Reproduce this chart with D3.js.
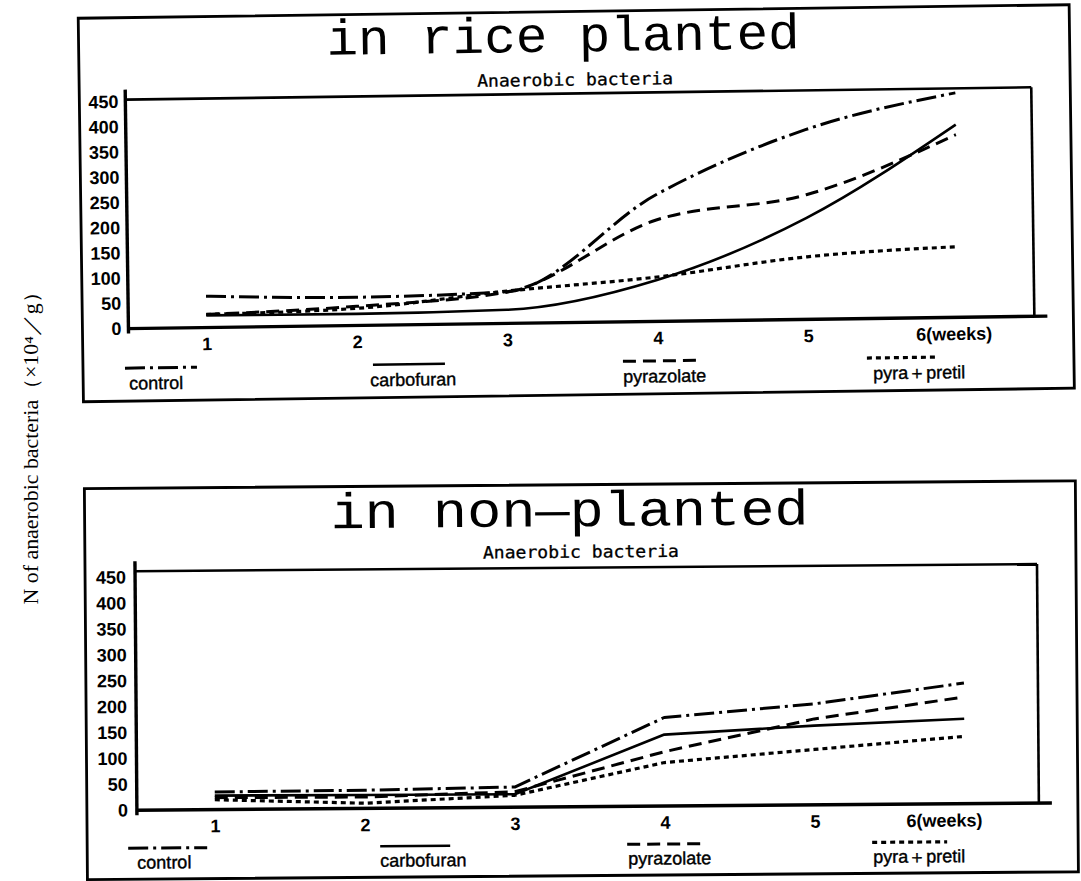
<!DOCTYPE html>
<html><head><meta charset="utf-8">
<script src="https://cdn.jsdelivr.net/npm/d3@7"></script>
<style>body{margin:0;background:#fff}svg{display:block}</style>
</head><body>
<svg id="c" width="1081" height="881"></svg>
<script>
// ---------- data ----------
const weeks = [1, 2, 3, 4, 5, 6];
const weekLabels = ["1", "2", "3", "4", "5", "6(weeks)"];
const yTicks = [0, 50, 100, 150, 200, 250, 300, 350, 400, 450];
const seriesNames = ["control", "carbofuran", "pyrazolate", "pyra＋pretil"];

// in rice planted
const riceControl     = [62, 56, 63, 251, 376, 445];
const riceCarbofuran  = [24, 23, 27, 82, 201, 382];
const ricePyrazolate  = [26, 38, 62, 201, 247, 362];
const ricePyraPretil  = [26, 34, 64, 88, 124, 140];

// in non-planted
const nonControl      = [34, 35, 39, 171, 195, 233];
const nonCarbofuran   = [27, 26, 25, 138, 153, 164];
const nonPyrazolate   = [23, 22, 30, 105, 166, 206];
const nonPyraPretil   = [19, 10, 23, 84, 107, 130];

const panelTitles = ["in rice planted", "in non\u2014planted"];
const subTitle = "Anaerobic bacteria";
const yAxisTitle = "N of anaerobic bacteria\uFF08\u00D710\u2074\uFF0Fg\uFF09";

// ---------- styles ----------
const lineStyles = [
  {dash: "20,5,3,5", w: 3},
  {dash: null, w: 2.6},
  {dash: "13,7", w: 3},
  {dash: "5,4", w: 3.2}
];

const panels = [
  {
    rot: -0.78, box: [84, 12, 1075, 395.5],
    plot: {l: 130, t: 94, r: 1036, b: 323},
    xr: [208, 960], yr: [323, 96],
    curve: d3.curveMonotoneX,
    titleY: 52, titleX: [332, 805], subY: 86,
    yPad: 7, xPad: 10, lastDx: -5,
    legLineY: 362.5, legTextY: 384,
    legLines: [[126, 198], [374, 446], [624, 701], [868, 939]],
    legText: [130, 371, 624, 874],
    series: [riceControl, riceCarbofuran, ricePyrazolate, ricePyraPretil],
    title: panelTitles[0]
  },
  {
    rot: -0.45, box: [84, 485, 1075, 876],
    plot: {l: 134, t: 568, r: 1036, b: 807},
    xr: [212, 962], yr: [807, 574],
    curve: d3.curveLinear,
    titleY: 526.5, titleX: [330, 808], subY: 558,
    yPad: 9, xPad: 10, lastDx: -21,
    legLineY: 845, legTextY: 865.5,
    legLines: [[125, 204], [377, 447], [624, 700], [869, 944]],
    legText: [134, 377, 625, 870],
    series: [nonControl, nonCarbofuran, nonPyrazolate, nonPyraPretil],
    title: panelTitles[1]
  }
];

const svg = d3.select("#c");

function drawPanel(cfg) {
  const g = svg.append("g").attr("transform", `rotate(${cfg.rot} 540 440)`);
  const x = d3.scaleLinear().domain([1, 6]).range(cfg.xr);
  const y = d3.scaleLinear().domain([0, 450]).range(cfg.yr);
  const P = cfg.plot;

  // outer box
  g.append("rect")
    .attr("x", cfg.box[0]).attr("y", cfg.box[1])
    .attr("width", cfg.box[2] - cfg.box[0]).attr("height", cfg.box[3] - cfg.box[1])
    .attr("fill", "none").attr("stroke", "#000").attr("stroke-width", 2.8);

  // title
  g.append("text")
    .attr("x", cfg.titleX[0]).attr("y", cfg.titleY)
    .attr("textLength", cfg.titleX[1] - cfg.titleX[0]).attr("lengthAdjust", "spacingAndGlyphs")
    .attr("font-family", "'Liberation Mono', 'DejaVu Sans Mono', monospace")
    .attr("font-size", 50).attr("fill", "#000")
    .text(cfg.title);

  // subtitle
  g.append("text")
    .attr("x", 580).attr("y", cfg.subY).attr("text-anchor", "middle")
    .attr("textLength", 196).attr("lengthAdjust", "spacingAndGlyphs")
    .attr("font-family", "'DejaVu Sans Mono', monospace")
    .attr("font-size", 17).attr("fill", "#000")
    .attr("stroke", "#000").attr("stroke-width", 0.3)
    .text(subTitle);

  // plot frame
  g.append("line").attr("x1", P.l).attr("x2", P.r).attr("y1", P.t).attr("y2", P.t)
    .attr("stroke", "#000").attr("stroke-width", 2.6);
  g.append("line").attr("x1", P.r).attr("x2", P.r).attr("y1", P.t).attr("y2", P.b)
    .attr("stroke", "#000").attr("stroke-width", 2.6);
  g.append("line").attr("x1", P.l).attr("x2", P.l).attr("y1", P.t - 10).attr("y2", P.b + 5)
    .attr("stroke", "#000").attr("stroke-width", 3.4);
  g.append("line").attr("x1", P.l - 1).attr("x2", P.r + 13).attr("y1", P.b).attr("y2", P.b)
    .attr("stroke", "#000").attr("stroke-width", 3.4);

  // y axis
  const ya = g.append("g").attr("transform", `translate(${P.l},0)`)
    .call(d3.axisLeft(y).tickValues(yTicks).tickSize(0).tickPadding(cfg.yPad));
  ya.select(".domain").remove();
  ya.selectAll("text")
    .attr("font-family", "'Liberation Sans', Arial, sans-serif")
    .attr("font-size", 18).attr("font-weight", "bold").attr("fill", "#000");

  // x axis
  const xa = g.append("g").attr("transform", `translate(0,${P.b})`)
    .call(d3.axisBottom(x).tickValues(weeks).tickFormat((d, i) => weekLabels[i])
      .tickSize(0).tickPadding(cfg.xPad));
  xa.select(".domain").remove();
  xa.selectAll("text")
    .attr("font-family", "'Liberation Sans', Arial, sans-serif")
    .attr("font-size", 18).attr("font-weight", "bold").attr("fill", "#000")
    .attr("dx", (d, i) => i === weeks.length - 1 ? cfg.lastDx : 0);

  // series lines
  const line = d3.line().x((d, i) => x(weeks[i])).y(d => y(d)).curve(cfg.curve);
  cfg.series.forEach((vals, k) => {
    const st = lineStyles[k];
    g.append("path").datum(vals)
      .attr("d", line)
      .attr("fill", "none").attr("stroke", "#000")
      .attr("stroke-width", st.w)
      .attr("stroke-dasharray", st.dash)
      .attr("stroke-linejoin", "round");
  });

  // legend
  seriesNames.forEach((name, k) => {
    const st = lineStyles[k];
    g.append("line")
      .attr("x1", cfg.legLines[k][0]).attr("x2", cfg.legLines[k][1])
      .attr("y1", cfg.legLineY).attr("y2", cfg.legLineY)
      .attr("stroke", "#000").attr("stroke-width", st.w)
      .attr("stroke-dasharray", st.dash);
    g.append("text")
      .attr("x", cfg.legText[k]).attr("y", cfg.legTextY)
      .attr("font-family", "'Liberation Sans', Arial, sans-serif")
      .attr("font-size", 18).attr("fill", "#000")
      .attr("stroke", "#000").attr("stroke-width", 0.4)
      .text(name);
  });
}

panels.forEach(drawPanel);

// rotated y-axis title
svg.append("text")
  .attr("transform", "translate(38,443) rotate(-90)")
  .attr("text-anchor", "middle")
  .attr("textLength", 323).attr("lengthAdjust", "spacingAndGlyphs")
  .attr("font-family", "'Liberation Serif', 'DejaVu Serif', serif")
  .attr("font-size", 20).attr("fill", "#000")
  .text(yAxisTitle);
</script>
</body></html>
